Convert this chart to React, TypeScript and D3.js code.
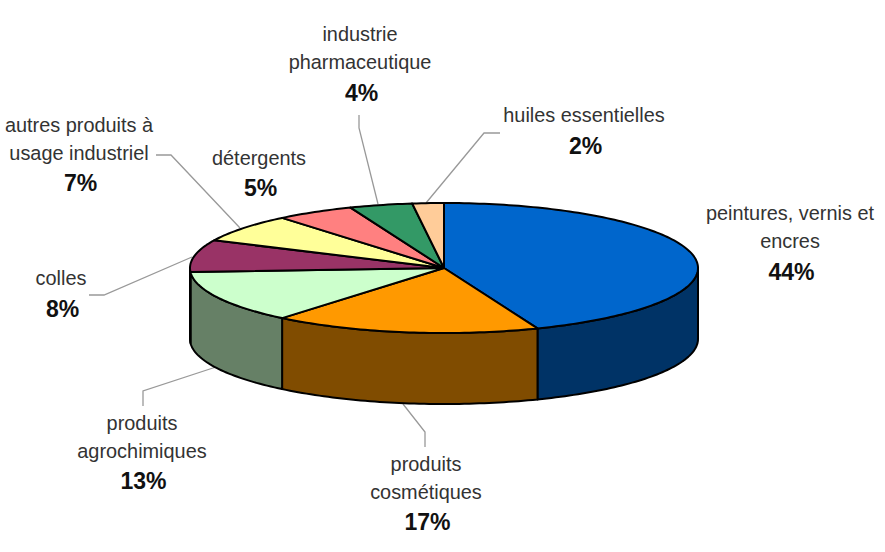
import React from "react";
import * as d3 from "d3";

const categories = ["peintures, vernis et encres", "produits cosmétiques", "produits agrochimiques", "colles", "autres produits à usage industriel", "détergents", "industrie pharmaceutique", "huiles essentielles"];
const shares = [44, 17, 13, 8, 7, 5, 4, 2];
const topColors = ["#0066CC", "#FF9900", "#CCFFCC", "#993366", "#FFFF99", "#FF8080", "#339966", "#FFCC99"];
const sideColors = ["#003366", "#804C00", "#668066", "#4C1933", "#80804C", "#804040", "#194C33", "#80664C"];

const W = 885, H = 552;
const cx = 444, cy = 268, rx = 254, ry = 65, depth = 71;

const labelLayout = [
  { lines: ["peintures, vernis et", "encres"], x: 790, y: 220, pctY: 280 },
  { lines: ["produits", "cosmétiques"], x: 426, y: 471, pctY: 530 },
  { lines: ["produits", "agrochimiques"], x: 142, y: 430, pctY: 489 },
  { lines: ["colles"], x: 61, y: 285, pctY: 317 },
  { lines: ["autres produits à", "usage industriel"], x: 79, y: 132, pctY: 191 },
  { lines: ["détergents"], x: 259, y: 165, pctY: 196 },
  { lines: ["industrie", "pharmaceutique"], x: 360, y: 41, pctY: 101 },
  { lines: ["huiles essentielles"], x: 584, y: 122, pctY: 154 },
];
const leaderLines: ([number, number][] | null)[] = [
  null,
  [[403, 404], [425, 432], [425, 447]],
  [[216, 367], [143, 391], [143, 406]],
  [[192, 257], [104, 295], [89, 295]],
  [[240, 228], [171, 155], [156, 155]],
  null,
  [[378, 204], [359, 128], [359, 115]],
  [[426, 203], [484, 133], [500, 133]],
];

const pie = d3.pie<number>().sort(null).startAngle(0).endAngle(2 * Math.PI);
const arcs = pie(shares);
const px = (a: number) => cx + rx * Math.sin(a);
const py = (a: number, drop = 0) => cy - ry * Math.cos(a) + drop;
const line = d3.line();

function sample(a0: number, a1: number, drop = 0): [number, number][] {
  const n = Math.max(2, Math.ceil(Math.abs(a1 - a0) / 0.02));
  return d3.range(n + 1).map((i) => {
    const a = a0 + ((a1 - a0) * i) / n;
    return [px(a), py(a, drop)] as [number, number];
  });
}

const front0 = Math.PI / 2, front1 = (3 * Math.PI) / 2;

export default function App() {
  const font = "'Liberation Sans', Arial, sans-serif";
  return (
    <svg width={W} height={H} viewBox={`0 0 ${W} ${H}`} style={{ position: "absolute", left: 0, top: 0, background: "#fff" }}>
      {leaderLines.map((l, i) => l && (
        <path key={i} d={line(l) as string} fill="none" stroke="#999" strokeWidth={1.3} />
      ))}
      {arcs.map((d, i) => {
        const a0 = Math.max(d.startAngle, front0), a1 = Math.min(d.endAngle, front1);
        if (a1 <= a0) return null;
        const pts = [...sample(a0, a1), ...sample(a1, a0, depth)];
        return <path key={i} d={line(pts) + "Z"} fill={sideColors[i]} stroke="#000" strokeWidth={2} strokeLinejoin="round" />;
      })}
      {arcs.map((d, i) => {
        const pts: [number, number][] = [[cx, cy], ...sample(d.startAngle, d.endAngle)];
        return <path key={i} d={line(pts) + "Z"} fill={topColors[i]} stroke="#000" strokeWidth={2} strokeLinejoin="round" />;
      })}
      {labelLayout.map((l, i) => (
        <g key={i} fontFamily={font} textAnchor="middle" fontSize={19.9}>
          {l.lines.map((t, j) => (
            <text key={j} x={l.x} y={l.y + j * 27.5} fill="#333">{t}</text>
          ))}
          <text x={l.x + 1.5} y={l.pctY} fontWeight="bold" fontSize={23} fill="#111">{shares[i]}%</text>
        </g>
      ))}
    </svg>
  );
}
